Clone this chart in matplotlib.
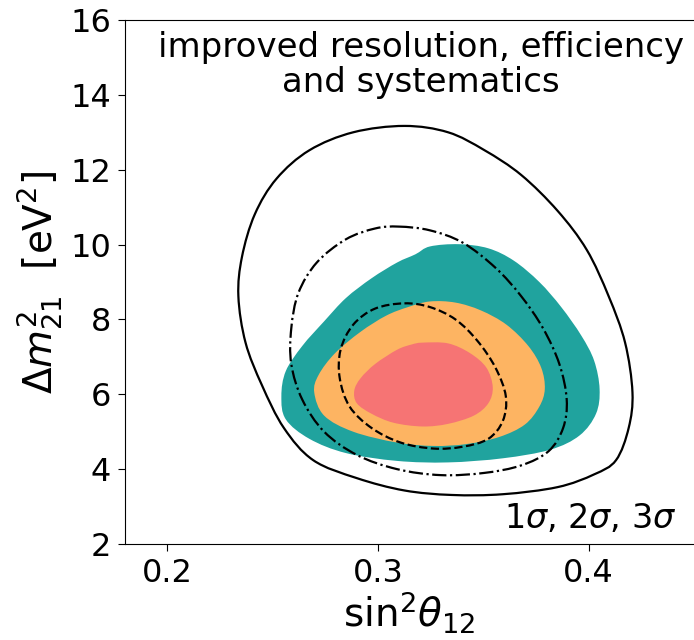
import matplotlib
matplotlib.use("Agg")
import matplotlib.pyplot as plt
import numpy as np
from matplotlib.path import Path
from matplotlib.patches import PathPatch

# contour boundaries (sin^2 theta12, dm^2_21)
fill3_x = [0.3247, 0.3385, 0.3524, 0.3645, 0.3766, 0.3870, 0.3965, 0.4026, 0.4052, 0.4035,
           0.3957, 0.3818, 0.3593, 0.3333, 0.3091, 0.2848, 0.2675, 0.2563, 0.2542, 0.2563,
           0.2641, 0.2745, 0.2848, 0.2970, 0.3091, 0.3178]
fill3_y = [9.95, 10.01, 9.90, 9.57, 9.00, 8.33, 7.57, 6.90, 6.14, 5.48,
           4.90, 4.52, 4.29, 4.18, 4.22, 4.43, 4.81, 5.33, 5.95, 6.62,
           7.29, 7.95, 8.57, 9.10, 9.52, 9.74]

fill2_x = [0.3247, 0.3368, 0.3489, 0.3610, 0.3714, 0.3775, 0.3792, 0.3766, 0.3697, 0.3576,
           0.3420, 0.3264, 0.3091, 0.2883, 0.2745, 0.2698, 0.2719, 0.2797, 0.2918, 0.3039,
           0.3143]
fill2_y = [8.48, 8.45, 8.24, 7.86, 7.29, 6.71, 6.14, 5.67, 5.19, 4.86,
           4.67, 4.62, 4.71, 5.00, 5.43, 6.05, 6.52, 7.10, 7.67, 8.10,
           8.33]

fill1_x = [0.3212, 0.3333, 0.3437, 0.3515, 0.3545, 0.3524, 0.3455, 0.3333, 0.3212, 0.3074,
           0.2970, 0.2900, 0.2888, 0.2918, 0.2987, 0.3091, 0.3160]
fill1_y = [7.38, 7.36, 7.10, 6.71, 6.19, 5.76, 5.43, 5.21, 5.14, 5.24,
           5.48, 5.76, 6.10, 6.43, 6.81, 7.19, 7.33]

line3_x = [0.3126, 0.3333, 0.3506, 0.3680, 0.3853, 0.3991, 0.4095, 0.4173, 0.4208, 0.4190,
           0.4130, 0.4026, 0.3853, 0.3593, 0.3351, 0.3126, 0.2900, 0.2693, 0.2554, 0.2450,
           0.2372, 0.2338, 0.2355, 0.2416, 0.2519, 0.2675, 0.2883]
line3_y = [13.17, 13.00, 12.52, 11.86, 10.90, 9.86, 8.62, 7.38, 6.05, 5.10,
           4.24, 3.86, 3.52, 3.33, 3.31, 3.43, 3.76, 4.24, 5.10, 6.24,
           7.38, 8.62, 9.67, 10.81, 11.76, 12.52, 13.00]

line2_x = [0.3100, 0.3247, 0.3403, 0.3558, 0.3680, 0.3784, 0.3861, 0.3896, 0.3879, 0.3810,
           0.3680, 0.3506, 0.3299, 0.3091, 0.2900, 0.2745, 0.2641, 0.2589, 0.2589, 0.2623,
           0.2710, 0.2848, 0.2987]
line2_y = [10.48, 10.38, 10.05, 9.38, 8.62, 7.76, 6.81, 5.86, 5.10, 4.48,
           4.10, 3.90, 3.84, 4.00, 4.38, 5.00, 5.86, 6.81, 7.76, 8.71,
           9.52, 10.14, 10.43]

line1_x = [0.3126, 0.3247, 0.3368, 0.3472, 0.3558, 0.3607, 0.3593, 0.3524, 0.3403, 0.3264,
           0.3108, 0.2970, 0.2866, 0.2819, 0.2823, 0.2883, 0.2987]
line1_y = [8.43, 8.33, 8.00, 7.43, 6.71, 5.95, 5.29, 4.81, 4.60, 4.55,
           4.71, 5.10, 5.67, 6.43, 7.19, 7.86, 8.29]


def closed_path(xs, ys):
    # smooth closed curve through the points (Catmull-Rom as cubic Bezier)
    p = np.column_stack([xs, ys]).astype(float)
    n = len(p)
    verts = [p[0]]
    codes = [Path.MOVETO]
    for i in range(n):
        p0, p1, p2, p3 = p[i - 1], p[i], p[(i + 1) % n], p[(i + 2) % n]
        verts += [p1 + (p2 - p0) / 6, p2 - (p3 - p1) / 6, p2]
        codes += [Path.CURVE4] * 3
    return Path(verts, codes)


fig = plt.figure(figsize=(6.94, 6.4), dpi=100)
ax = fig.add_axes([125 / 694, 96 / 640, 1 - 125 / 694, 524 / 640])

for xs, ys, col in [(fill3_x, fill3_y, "#20a39e"),
                    (fill2_x, fill2_y, "#fdb462"),
                    (fill1_x, fill1_y, "#f67474")]:
    ax.add_patch(PathPatch(closed_path(xs, ys), facecolor=col, edgecolor="none"))

for xs, ys, ls in [(line3_x, line3_y, "-"),
                   (line2_x, line2_y, "-."),
                   (line1_x, line1_y, "--")]:
    ax.add_patch(PathPatch(closed_path(xs, ys), facecolor="none", edgecolor="black",
                           linewidth=1.6, linestyle=ls))

ax.set_xlim(0.18, 0.45)
ax.set_ylim(2, 16)
ax.set_xticks([0.2, 0.3, 0.4])
ax.set_yticks(range(2, 17, 2))
ax.tick_params(labelsize=23, length=5, pad=5)
ax.spines["right"].set_visible(False)

ax.set_xlabel(r"sin$^2\theta_{12}$", fontsize=28, labelpad=0)
ax.set_ylabel(r"$\Delta m^2_{21}$  [eV$^2$]", fontsize=28, labelpad=4)

ax.text(0.3203, 15.7, "improved resolution, efficiency\nand systematics",
        ha="center", va="top", fontsize=24.5, linespacing=1.08)
ax.text(0.4415, 2.43, r"$1\sigma$, $2\sigma$, $3\sigma$",
        ha="right", va="baseline", fontsize=24)

fig.savefig("out.png", dpi=100)
